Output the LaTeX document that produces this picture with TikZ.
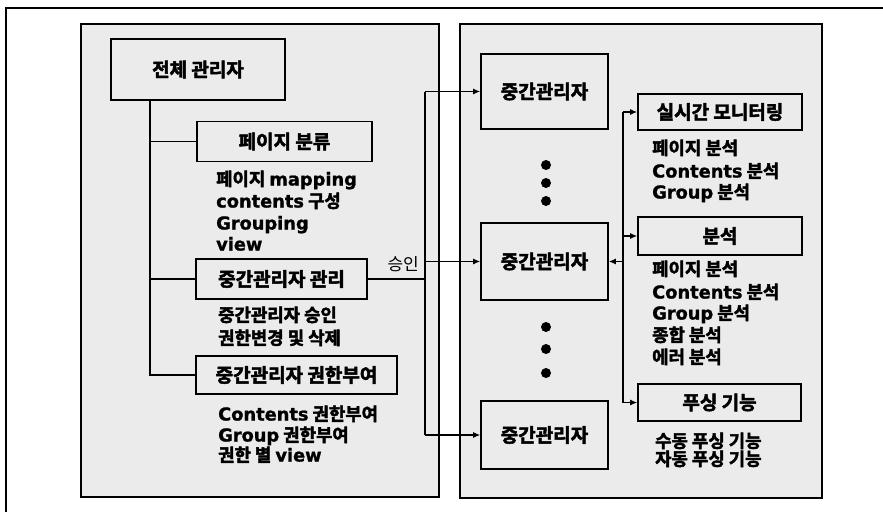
\documentclass[tikz,border=0pt]{standalone}
\usepackage{fontspec}
\setmainfont{Noto Sans CJK KR}[BoldFont={Noto Sans CJK KR Bold}, BoldFeatures={FakeBold=2.5}]
\newfontfamily\latf{DejaVu Sans}[BoldFont={DejaVu Sans Bold}, BoldFeatures={FakeBold=1.2}]
\newcommand\latw[1]{{\latf #1}}
\usetikzlibrary{arrows.meta}
\tikzset{
  panel/.style={draw, line width=1.6pt, fill=black!8},
  box/.style={draw, line width=1.6pt, inner sep=0pt, font=\bfseries\fontsize{19}{21}\selectfont},
  lst/.style={anchor=base west, inner sep=0pt, font=\bfseries\fontsize{17.8}{20}\selectfont},
  conn/.style={line width=1.2pt},
  arr/.style={conn, -{Latex[length=7pt,width=6pt]}},
  bigdot/.style={circle, fill, inner sep=0pt, minimum size=10pt},
}
\begin{document}
\begin{tikzpicture}[x=1pt,y=-1pt]
\useasboundingbox (0,0) rectangle (883,512);
% outer frame
\draw[line width=1.3pt] (883,8) -- (6,8) -- (6,512);
% panels
\draw[panel] (81,24) rectangle (439,497);
\draw[panel] (460,24) rectangle (822,498);
% left side boxes
\node[box, minimum width=174pt, minimum height=61pt] (top) at (198,69.5) {전체 관리자};
\node[box, minimum width=175pt, minimum height=40pt] (cls) at (284.5,141.5) {페이지 분류};
\node[box, minimum width=171pt, minimum height=40pt] (mgr) at (281.5,279) {중간관리자 관리};
\node[box, minimum width=201pt, minimum height=38pt] (auth) at (296.5,375) {중간관리자 권한부여};
% middle boxes
\node[box, minimum width=127pt, minimum height=75pt] (m1) at (544.5,91.5) {중간관리자};
\node[box, minimum width=127pt, minimum height=77pt] (m2) at (544.5,261.5) {중간관리자};
\node[box, minimum width=127pt, minimum height=68pt] (m3) at (544.5,435) {중간관리자};
% right boxes
\node[box, minimum width=164pt, minimum height=36pt] (rt) at (720,112) {실시간 모니터링};
\node[box, minimum width=164pt, minimum height=38pt] (an) at (720,236) {분석};
\node[box, minimum width=163pt, minimum height=37pt] (pu) at (719.5,402.5) {푸싱 기능};
% dots
\node[bigdot] (d1) at (546,165) {};
\node[bigdot] (d2) at (546,183) {};
\node[bigdot] (d3) at (546,201) {};
\node[bigdot] (d4) at (546,327) {};
\node[bigdot] (d5) at (546,349) {};
\node[bigdot] (d6) at (546,373) {};
% left tree
\coordinate (tk) at (150,375);
\draw[conn] (tk |- top.south) -- (tk) -- (auth.west);
\draw[conn] (tk |- cls.west) -- (cls.west);
\draw[conn] (tk |- mgr.west) -- (mgr.west);
% approval bus
\coordinate (bus) at (425,0);
\draw[conn] (mgr.east) -- (mgr.east -| bus);
\draw[conn] (bus |- m1.west) -- (bus |- m3.west);
\draw[arr] (bus |- m1.west) -- (m1.west);
\draw[arr] (bus |- m2.west) -- (m2.west);
\draw[arr] (bus |- m3.west) -- (m3.west);
\node[anchor=east, inner sep=0pt, font=\fontsize{17}{20}\selectfont] (ok) at (419,264) {승인};
% right bus
\coordinate (rb) at (623,0);
\draw[conn] (rb |- rt.west) -- (rb |- pu.west);
\draw[arr] (rb |- rt.west) -- (rt.west);
\draw[arr] (rb |- an.west) -- (an.west);
\draw[arr] (rb |- pu.west) -- (pu.west);
\draw[arr] (rb |- m2.east) -- (m2.east);
% left lists
\node[lst] (a1) at (216,185.5) {페이지 \latw{mapping}};
\node[lst] (a2) at (216,207.5) {\latw{contents} 구성};
\node[lst] (a3) at (216,229.5) {\latw{Grouping}};
\node[lst] (a4) at (216,250.5) {\latw{view}};
\node[lst] (b1) at (218,321.5) {중간관리자 승인};
\node[lst] (b2) at (218,344.5) {권한변경 및 삭제};
\node[lst] (c1) at (218,420.5) {\latw{Contents} 권한부여};
\node[lst] (c2) at (218,441.5) {\latw{Group} 권한부여};
\node[lst] (c3) at (218,461.5) {권한 별 \latw{view}};
% right lists
\node[lst] (r1) at (652,154.5) {페이지 분석};
\node[lst] (r2) at (652,177.5) {\latw{Contents} 분석};
\node[lst] (r3) at (652,198.5) {\latw{Group} 분석};
\node[lst] (s1) at (652,275.5) {페이지 분석};
\node[lst] (s2) at (652,298.5) {\latw{Contents} 분석};
\node[lst] (s3) at (652,319.5) {\latw{Group} 분석};
\node[lst] (s4) at (652,341.5) {종합 분석};
\node[lst] (s5) at (652,363.5) {에러 분석};
\node[lst] (p1) at (655,447.5) {수동 푸싱 기능};
\node[lst] (p2) at (655,465.5) {자동 푸싱 기능};
\end{tikzpicture}
\end{document}
